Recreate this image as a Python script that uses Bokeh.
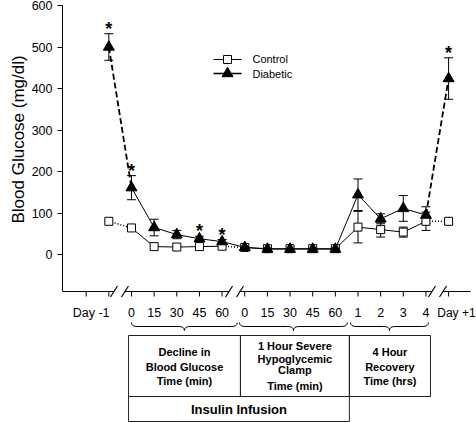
import math
from bokeh.plotting import figure
from bokeh.models import (Range1d, FixedTicker, ColumnDataSource, Whisker, TeeHead, Title)
from bokeh.embed import file_html
from bokeh.resources import INLINE
from bokeh.core.properties import value

# ---------------- data ----------------
tick_labels = ["Day -1", "0", "15", "30", "45", "60", "0", "15", "30", "45", "60",
               "1", "2", "3", "4", "Day +1"]
x_pos = [-1, 0, 1, 2, 3, 4, 5, 6, 7, 8, 9, 10, 11, 12, 13, 14]
axis_ticks = [-2, -1, 0, 1, 2, 3, 4, 5, 6, 7, 8, 9, 10, 11, 12, 13, 14]
y_ticks = [0, 100, 200, 300, 400, 500, 600]

control_mean = [80, 64, 19, 18, 19, 20, 17, 14, 14, 14, 14, 66, 60, 54, 80, 80]
control_sem = [0, 0, 0, 0, 0, 0, 0, 0, 0, 0, 0, 38, 18, 12, 22, 0]
diabetic_mean = [500, 161, 65, 48, 38, 31, 17, 13, 13, 13, 13, 144, 86, 111, 95, 424]
diabetic_sem = [32, 29, 20, 10, 6, 5, 3, 0, 0, 0, 0, 38, 12, 31, 20, 50]
diabetic_sig = [1, 1, 0, 0, 1, 1, 0, 0, 0, 0, 0, 0, 0, 0, 0, 1]

series_names = ["Control", "Diabetic"]
phase_titles = [["Decline in", "Blood Glucose", "Time (min)"],
                ["1 Hour Severe", "Hypoglycemic", "Clamp", "Time (min)"],
                ["4 Hour", "Recovery", "Time (hrs)"]]
infusion_title = "Insulin Infusion"
y_title = "Blood Glucose (mg/dl)"
axis_breaks = [-0.53, 4.55, 13.51]

# ---------------- layout constants (data units) ----------------
FONT = "Liberation Sans"
AX_Y = -89.2          # level of the x axis line
TICK_LEN = 12
LABEL_Y = -139.8
BR_TOP, BR_MID, BR_TIP = -163.9, -173.5, -183.1
BOX_TOP, BOX_MID, BOX_BOT = -195.2, -342.2, -402.4
box_edges = [-0.13, 4.81, 9.62, 13.20]
braces = [(0.0, 4.67), (4.77, 9.53), (9.67, 13.11)]
box_line_ys = [[-236.1, -269.9, -303.6], [-219.3, -250.6, -279.5, -315.7],
               [-236.1, -269.9, -303.6]]
INFUSION_Y = -373.5
LEG_ROWS = [469.9, 436.1]
LEG_X0, LEG_XM, LEG_X1, LEG_TX = 3.62, 4.24, 4.86, 5.34

p = figure(width=476, height=422, x_range=Range1d(-3.046, 15.232), y_range=Range1d(-404.8, 600),
           output_backend="svg", toolbar_location=None, x_axis_location=None,
           min_border_left=62, min_border_right=0, min_border_top=5, min_border_bottom=0,
           background_fill_color="white", border_fill_color="white")
p.grid.visible = False
p.outline_line_color = None

yax = p.yaxis[0]
yax.bounds = (AX_Y, 600)
yax.ticker = FixedTicker(ticks=y_ticks)
yax.major_tick_out = 5
yax.major_tick_in = 0
yax.minor_tick_out = 0
yax.minor_tick_in = 0
yax.axis_line_color = "black"
yax.major_tick_line_color = "black"
yax.major_label_text_font = FONT
yax.major_label_text_font_size = "12.5px"
yax.major_label_text_color = "black"
yax.major_label_standoff = 5

# y axis title, as a side title so that it can sit over the upper part of the axis
p.add_layout(Title(text=y_title, align="left", offset=199, text_font=FONT,
                   text_font_size="17px", text_font_style="normal", text_color="black",
                   standoff=2), "left")

# ---------------- custom x axis ----------------
x_left = p.x_range.start
p.segment(x0=[x_left], y0=[AX_Y], x1=[14.97], y1=[AX_Y], line_color="black", line_width=1)
p.segment(x0=axis_ticks, y0=[AX_Y] * len(axis_ticks), x1=axis_ticks,
          y1=[AX_Y - TICK_LEN] * len(axis_ticks), line_color="black", line_width=1)
for b in axis_breaks:
    p.quad(left=[b - 0.24], right=[b + 0.24], top=[AX_Y + 4], bottom=[AX_Y - 4],
           fill_color="white", line_color=None)
    for off in (-0.243, 0.243):
        p.segment(x0=[b + off - 0.155], y0=[AX_Y - 13.3], x1=[b + off + 0.155], y1=[AX_Y + 13.3],
                  line_color="black", line_width=1.2)

mid_x = x_pos[1:-1]
p.text(x=mid_x, y=[LABEL_Y] * len(mid_x), text=tick_labels[1:-1], text_align="center",
       text_baseline="middle", text_font=value(FONT), text_font_size="12.5px", text_color="black")
p.text(x=[-0.97], y=[LABEL_Y], text=[tick_labels[0]], text_align="right",
       text_baseline="middle", text_font=value(FONT), text_font_size="12.5px", text_color="black")
p.text(x=[13.50], y=[LABEL_Y], text=[tick_labels[-1]], text_align="left",
       text_baseline="middle", text_font=value(FONT), text_font_size="12px", text_color="black")

# braces
r = 0.25
for (xa, xb) in braces:
    xm = (xa + xb) / 2
    p.quadratic(x0=[xa, xm - r, xm, xb - r], y0=[BR_TOP, BR_MID, BR_TIP, BR_MID],
                x1=[xa + r, xm, xm + r, xb], y1=[BR_MID, BR_TIP, BR_MID, BR_TOP],
                cx=[xa, xm, xm, xb], cy=[BR_MID, BR_MID, BR_MID, BR_MID],
                line_color="black", line_width=1)
    p.segment(x0=[xa + r, xm + r], y0=[BR_MID, BR_MID], x1=[xm - r, xb - r], y1=[BR_MID, BR_MID],
              line_color="black", line_width=1)

# boxes
p.quad(left=box_edges[:3], right=box_edges[1:], top=[BOX_TOP] * 3, bottom=[BOX_MID] * 3,
       fill_color=None, line_color="#222222", line_width=1)
p.quad(left=[box_edges[0]], right=[box_edges[2]], top=[BOX_MID], bottom=[BOX_BOT],
       fill_color=None, line_color="#222222", line_width=1)

for i, lines in enumerate(phase_titles):
    cx = (box_edges[i] + box_edges[i + 1]) / 2
    p.text(x=[cx] * len(lines), y=box_line_ys[i], text=lines, text_align="center",
           text_baseline="middle", text_font=value(FONT), text_font_style="bold",
           text_font_size="11px", text_color="black")
p.text(x=[(box_edges[0] + box_edges[2]) / 2], y=[INFUSION_Y], text=[infusion_title],
       text_align="center", text_baseline="middle", text_font=value(FONT),
       text_font_style="bold", text_font_size="13px", text_color="black")

# ---------------- data lines ----------------
def seg(arr, a, b):
    return arr[a:b + 1]

DOT = dict(line_color="black", line_width=1.6, line_dash="1 2")
DASH = dict(line_color="black", line_width=1.8, line_dash="6 3")
SOLID = dict(line_color="black", line_width=1)

p.line(seg(x_pos, 0, 1), seg(control_mean, 0, 1), **DOT)
p.line(seg(x_pos, 1, 5), seg(control_mean, 1, 5), **SOLID)
p.line(seg(x_pos, 5, 6), seg(control_mean, 5, 6), **DOT)
p.line(seg(x_pos, 6, 14), seg(control_mean, 6, 14), **SOLID)
p.line(seg(x_pos, 14, 15), seg(control_mean, 14, 15), **DOT)

p.line(seg(x_pos, 0, 1), seg(diabetic_mean, 0, 1), **DASH)
p.line(seg(x_pos, 1, 14), seg(diabetic_mean, 1, 14), **SOLID)
p.line(seg(x_pos, 14, 15), seg(diabetic_mean, 14, 15), **DASH)

def whisk(mean, sem):
    xs = [x for x, s in zip(x_pos, sem) if s > 0]
    up = [m + s for m, s in zip(mean, sem) if s > 0]
    lo = [m - s for m, s in zip(mean, sem) if s > 0]
    src = ColumnDataSource(dict(x=xs, upper=up, lower=lo))
    w = Whisker(source=src, base="x", upper="upper", lower="lower", line_color="black",
                line_width=1, level="underlay",
                upper_head=TeeHead(size=9, line_color="black", line_width=1),
                lower_head=TeeHead(size=9, line_color="black", line_width=1))
    p.add_layout(w)

whisk(control_mean, control_sem)
whisk(diabetic_mean, diabetic_sem)

SQ = dict(marker="square", size=8, fill_color="white", line_color="black", line_width=1)
TRI = dict(marker="triangle", size=11, fill_color="black", line_color="black")
p.scatter(x_pos, control_mean, **SQ)
p.scatter(x_pos, diabetic_mean, **TRI)

# significance stars
sx = [x for x, s in zip(x_pos, diabetic_sig) if s]
sy = [m + e + 12 for m, e, s in zip(diabetic_mean, diabetic_sem, diabetic_sig) if s]
p.text(x=sx, y=sy, text=["*"] * len(sx), text_align="center", text_baseline="middle",
       text_font=value(FONT), text_font_style="bold", text_font_size="18px", text_color="black")

# ---------------- legend ----------------
p.segment(x0=[LEG_X0, LEG_X0], y0=LEG_ROWS, x1=[LEG_X1, LEG_X1], y1=LEG_ROWS,
          line_color="black", line_width=[1, 1.3])
p.scatter([LEG_XM], [LEG_ROWS[0]], **SQ)
p.scatter([LEG_XM], [LEG_ROWS[1]], **TRI)
p.text(x=[LEG_TX, LEG_TX], y=LEG_ROWS, text=series_names, text_align="left",
       text_baseline="middle", text_font=value(FONT), text_font_size="11px", text_color="black")

open("out.html", "w").write(file_html(p, INLINE))
